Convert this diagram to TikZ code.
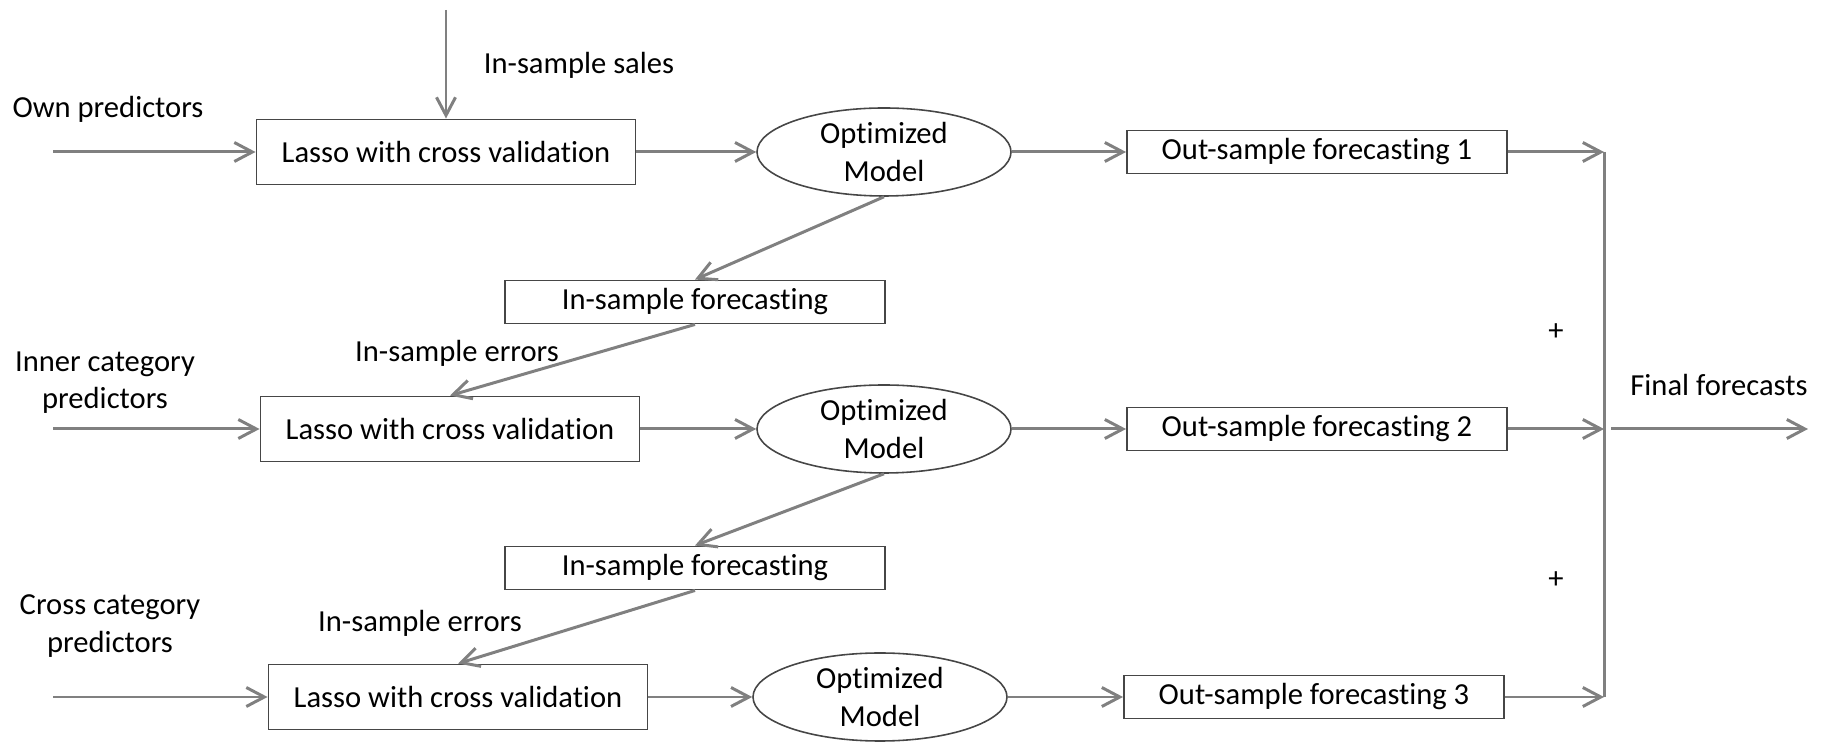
\documentclass[tikz,border=0pt]{standalone}
\usepackage{fontspec}
\setmainfont[Ligatures=NoCommon]{Carlito}
\usetikzlibrary{arrows.meta,shapes.geometric}
\definecolor{linegray}{RGB}{128,128,128}
\definecolor{boxgray}{RGB}{70,70,70}

\begin{document}
\begin{tikzpicture}[>={Straight Barb[length=1.8mm,width=1.9mm]},
    every node/.style={font=\fontsize{8.7}{10.6}\selectfont},
    flow/.style={->, color=linegray, line width=0.85pt},
    lassobox/.style={draw=boxgray, line width=0.55pt, minimum width=3.79cm, minimum height=0.65cm, inner sep=0pt},
    smallbox/.style={draw=boxgray, line width=0.55pt, minimum width=3.8cm, minimum height=0.43cm, inner sep=0pt},
    model/.style={ellipse, draw=boxgray, line width=0.45pt, minimum width=2.54cm, minimum height=0.88cm, inner sep=0pt, align=center}]
    \useasboundingbox (0,0) rectangle (18.27,7.42);
    % three rows
    \node[lassobox] (lasso1) at (4.46,5.90) {Lasso with cross validation};
    \node[lassobox] (lasso2) at (4.50,3.13) {Lasso with cross validation};
    \node[lassobox] (lasso3) at (4.58,0.45) {Lasso with cross validation};
    \node[model] (model1) at (8.84,5.90) {Optimized\\Model};
    \node[model] (model2) at (8.84,3.13) {Optimized\\Model};
    \node[model] (model3) at (8.80,0.45) {Optimized\\Model};
    \node[smallbox] (out1) at (13.17,5.90) {Out-sample forecasting 1};
    \node[smallbox] (out2) at (13.17,3.13) {Out-sample forecasting 2};
    \node[smallbox] (out3) at (13.14,0.45) {Out-sample forecasting 3};
    \node[smallbox] (ins1) at (6.95,4.40) {In-sample forecasting};
    \node[smallbox] (ins2) at (6.95,1.74) {In-sample forecasting};
    % labels
    \node (own) at (1.08,6.33) {Own predictors};
    \node[align=center] (inner) at (1.05,3.59) {Inner category\\predictors};
    \node[align=center] (cross) at (1.10,1.16) {Cross category\\predictors};
    \node (sales) at (5.79,6.77) {In-sample sales};
    \node (err1) at (4.57,3.89) {In-sample errors};
    \node (err2) at (4.20,1.19) {In-sample errors};
    \node (plus1) at (15.56,4.10) {+};
    \node (plus2) at (15.56,1.62) {+};
    \node (final) at (17.19,3.57) {Final forecasts};
    % free ends
    \coordinate (top) at (4.46,7.32);
    \coordinate (in1) at (0.53,5.90);
    \coordinate (in2) at (0.53,3.13);
    \coordinate (in3) at (0.53,0.45);
    \coordinate (m1) at (16.04,5.90);
    \coordinate (m2) at (16.04,3.13);
    \coordinate (m3) at (16.04,0.45);
    \coordinate (fin) at (18.08,3.13);
    % connectors
    \draw[flow] (top) -- (lasso1.north);
    \draw[flow] (in1) -- (lasso1.west);
    \draw[flow] (in2) -- (lasso2.west);
    \draw[flow] (in3) -- (lasso3.west);
    \draw[flow] (lasso1) -- (model1);
    \draw[flow] (lasso2) -- (model2);
    \draw[flow] (lasso3) -- (model3);
    \draw[flow] (model1) -- (out1);
    \draw[flow] (model2) -- (out2);
    \draw[flow] (model3) -- (out3);
    \draw[flow] (model1.south) -- (ins1.north);
    \draw[flow] (ins1.south) -- (lasso2.north);
    \draw[flow] (model2.south) -- (ins2.north);
    \draw[flow] (ins2.south) -- (lasso3.north);
    \draw[flow] (out1) -- (m1);
    \draw[flow] (out2) -- (m2);
    \draw[flow] (out3) -- (m3);
    \draw[color=linegray, line width=0.85pt] (m1) -- (m3);
    \draw[flow] ([xshift=0.7mm]m2) -- (fin);
\end{tikzpicture}
\end{document}
